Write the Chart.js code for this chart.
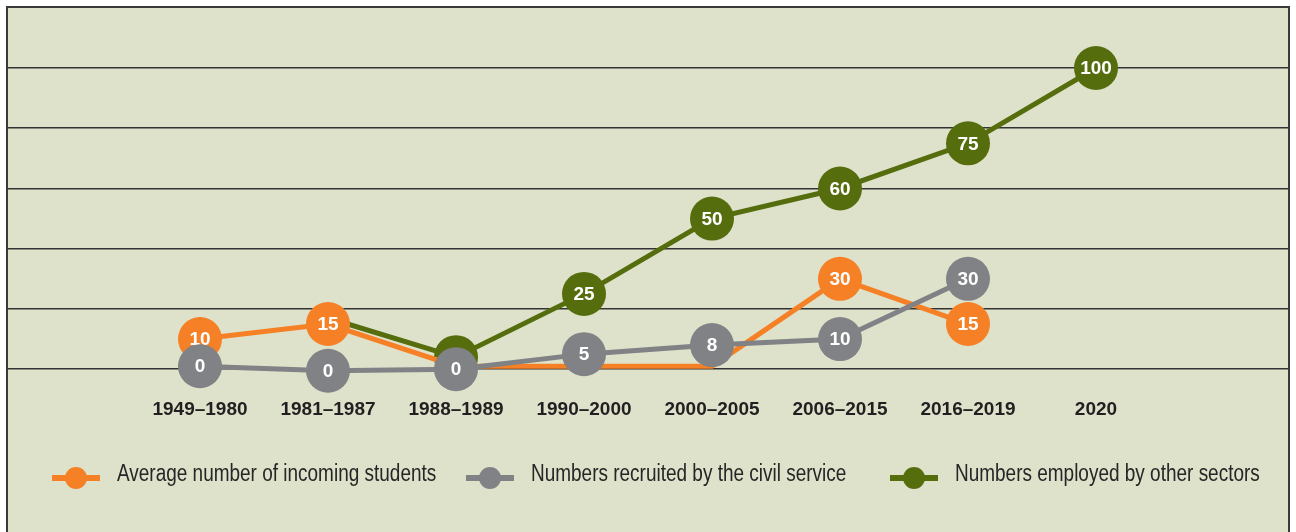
<!DOCTYPE html>
<html lang="en">
<head>
    <meta charset="UTF-8">
    <title>Students and graduates</title>
    <script src="https://cdn.jsdelivr.net/npm/chart.js"></script>
    <style>
        body {
            margin: 0;
            background: #ffffff;
            font-family: "Liberation Sans", Arial, sans-serif;
        }
        .frame {
            position: absolute;
            left: 6px;
            top: 6px;
            width: 1280px;
            height: 532px;
            border: 2px solid #3a3a3a;
            border-bottom: none;
            background: #dee2cb;
        }
        .chart-box {
            position: relative;
            width: 1280px;
            height: 524px;
        }
        .legend {
            position: absolute;
            top: 452px;
            left: 0;
            width: 100%;
        }
        .legend-item {
            position: absolute;
            display: flex;
            align-items: center;
            gap: 17px;
            height: 30px;
            white-space: nowrap;
        }
        .legend-text {
            display: inline-block;
            font-size: 23px;
            color: #262626;
            transform: scaleX(0.825);
            transform-origin: left center;
            margin-top: -4px;
        }
        .marker {
            position: relative;
            width: 48px;
            height: 24px;
            margin-top: 6px;
            flex: none;
        }
        .marker::before {
            content: '';
            position: absolute;
            left: 0;
            right: 0;
            top: 9px;
            height: 6px;
            background: var(--c);
        }
        .marker::after {
            content: '';
            position: absolute;
            left: 13px;
            top: 1px;
            width: 22px;
            height: 22px;
            border-radius: 50%;
            background: var(--c);
        }
    </style>
</head>
<body>
    <div class="frame">
        <div class="chart-box">
            <canvas id="lineChart"></canvas>
        </div>
        <div class="legend" id="legend"></div>
    </div>

    <script>
        // valores
        const categories = ['1949–1980', '1981–1987', '1988–1989', '1990–2000', '2000–2005', '2006–2015', '2016–2019', '2020'];

        const studentsValues = [10, 15, 1, 1, 1, 30, 15, null];
        const studentsLabels = ['10', '15', null, null, null, '30', '15', null];

        const civilValues = [1, -0.5, 0, 5, 8, 10, 30, null];
        const civilLabels = ['0', '0', '0', '5', '8', '10', '30', null];

        const otherValues = [null, 17, 4, 25, 50, 60, 75, 100];
        const otherLabels = [null, null, '', '25', '50', '60', '75', '100'];

        const seriesNames = ['Average number of incoming students', 'Numbers recruited by the civil service', 'Numbers employed by other sectors'];
        const colors = ['#f58025', '#818286', '#566d0e'];
        const legendLeft = [44, 458, 882];

        const fontFamily = '"Liberation Sans", Arial, sans-serif';

        // una categoria vacia a cada lado para dejar el margen
        const labels = [''].concat(categories, ['']);
        const pad = arr => [null].concat(arr, [null]);

        function makeDataset(name, values, pointLabels, color, order) {
            const lbls = pad(pointLabels);
            return {
                label: name,
                data: pad(values),
                pointLabels: lbls,
                borderColor: color,
                backgroundColor: color,
                pointBackgroundColor: color,
                pointBorderWidth: 0,
                borderWidth: 5,
                pointRadius: lbls.map(l => l === null ? 0 : 22),
                pointHoverRadius: lbls.map(l => l === null ? 0 : 22),
                tension: 0,
                clip: false,
                order: order
            };
        }

        // numeros blancos dentro de los circulos, dibujados con cada serie
        const pointLabelPlugin = {
            id: 'pointLabels',
            afterDatasetDraw(chart, args) {
                const ds = chart.data.datasets[args.index];
                const ctx = chart.ctx;
                ctx.save();
                ctx.fillStyle = '#ffffff';
                ctx.font = 'bold 19px ' + fontFamily;
                ctx.textAlign = 'center';
                ctx.textBaseline = 'middle';
                args.meta.data.forEach((pt, i) => {
                    const txt = ds.pointLabels[i];
                    if (txt) {
                        ctx.fillText(txt, pt.x, pt.y + 1);
                    }
                });
                ctx.restore();
            }
        };

        const ctx = document.getElementById('lineChart').getContext('2d');
        new Chart(ctx, {
            type: 'line',
            data: {
                labels: labels,
                datasets: [
                    makeDataset(seriesNames[0], studentsValues, studentsLabels, colors[0], 1),
                    makeDataset(seriesNames[1], civilValues, civilLabels, colors[1], 0),
                    makeDataset(seriesNames[2], otherValues, otherLabels, colors[2], 2)
                ]
            },
            options: {
                responsive: true,
                maintainAspectRatio: false,
                animation: false,
                layout: {
                    padding: { top: 60, bottom: 82, left: 0, right: 0 }
                },
                plugins: {
                    legend: { display: false },
                    tooltip: { enabled: false }
                },
                scales: {
                    x: {
                        offset: true,
                        grid: { display: false, drawTicks: false },
                        border: { display: false },
                        ticks: {
                            autoSkip: false,
                            maxRotation: 0,
                            padding: 29,
                            color: '#231f20',
                            font: { family: fontFamily, size: 19, weight: 'bold' }
                        }
                    },
                    y: {
                        min: 0,
                        max: 100,
                        grid: { color: '#333333', lineWidth: 1.5, drawTicks: false },
                        border: { display: false },
                        ticks: { display: false, stepSize: 20 }
                    }
                }
            },
            plugins: [pointLabelPlugin]
        });

        // leyenda en html
        const legend = document.getElementById('legend');
        seriesNames.forEach((name, i) => {
            const item = document.createElement('div');
            item.className = 'legend-item';
            item.style.left = legendLeft[i] + 'px';
            const marker = document.createElement('span');
            marker.className = 'marker';
            marker.style.setProperty('--c', colors[i]);
            const text = document.createElement('span');
            text.className = 'legend-text';
            text.textContent = name;
            item.appendChild(marker);
            item.appendChild(text);
            legend.appendChild(item);
        });
    </script>
</body>
</html>
